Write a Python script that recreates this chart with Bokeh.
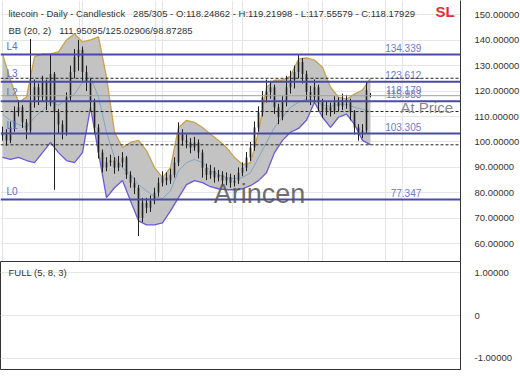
from bokeh.plotting import figure
from bokeh.models import (Range1d, FixedTicker, Grid, Label, Span,
                          NumeralTickFormatter, CustomJSTickFormatter, ColumnDataSource)
from bokeh.layouts import column
from bokeh.embed import file_html
from bokeh.resources import INLINE

FONT = "Liberation Sans"

# ---------------- data ----------------
opens = [102.5, 103.8, 100.6, 105.7, 111.7, 113.6, 107.7, 104.5, 115.6, 121.5,
         117.6, 123.5, 115.6, 126.7, 111.7, 106.9, 103.8, 117.6, 127.5, 133.4,
         136.2, 127.5, 123.5, 115.6, 105.7, 95.8, 89.9, 91.9, 92.7, 89.9,
         91.9, 93.9, 87.1, 84.0, 82.0, 70.1, 76.1, 74.1, 76.9, 80.0,
         84.0, 86.0, 84.8, 87.1, 91.9, 103.0, 100.6, 99.8, 97.8, 99.8,
         95.8, 89.9, 87.1, 88.7, 86.0, 87.1, 84.8, 86.0, 84.0, 84.8,
         87.9, 89.9, 93.9, 97.8, 105.7, 111.7, 117.6, 119.6, 121.5, 113.6,
         109.7, 115.6, 121.5, 124.3, 127.5, 131.4, 126.7, 119.6, 117.6, 121.5,
         115.6, 112.4, 113.6, 112.4, 115.6, 114.0, 116.4, 115.6, 111.7, 105.7,
         103.0, 104.5, 118.24862]
highs = [106.0, 105.0, 108.0, 114.0, 116.5, 114.5, 109.0, 140.5, 124.5, 123.0,
         126.0, 124.5, 134.6, 127.5, 113.0, 108.5, 119.5, 130.0, 136.5, 140.1,
         137.5, 130.0, 125.0, 117.0, 107.0, 97.0, 94.0, 95.0, 94.0, 94.5,
         96.0, 94.5, 88.5, 86.0, 83.0, 78.0, 78.0, 79.0, 82.0, 86.0,
         88.5, 88.0, 89.5, 94.0, 107.7, 105.0, 103.0, 101.5, 102.0, 101.0,
         97.0, 91.5, 91.0, 90.0, 89.0, 88.5, 88.0, 87.5, 87.0, 90.0,
         92.0, 96.0, 100.0, 108.0, 114.0, 120.0, 124.5, 124.0, 122.5, 115.0,
         118.0, 126.0, 128.0, 130.0, 134.3, 133.0, 128.0, 122.0, 124.5, 122.5,
         117.0, 116.0, 115.5, 118.0, 117.5, 119.0, 118.5, 117.0, 112.5, 107.0,
         107.0, 123.6, 119.21998]
lows = [100.5, 98.5, 99.5, 104.0, 110.0, 105.5, 101.0, 103.0, 113.5, 114.5,
        116.0, 112.5, 114.0, 81.2, 103.5, 101.0, 102.5, 116.0, 125.0, 128.0,
        124.0, 120.0, 112.0, 103.0, 93.5, 88.0, 88.5, 90.5, 87.5, 88.5,
        90.0, 85.5, 82.0, 79.5, 63.0, 68.5, 72.0, 72.5, 75.5, 78.5,
        82.5, 83.0, 83.5, 86.0, 90.5, 98.5, 97.5, 95.5, 96.5, 93.5,
        86.0, 85.0, 85.5, 84.0, 84.5, 82.5, 83.0, 82.0, 82.5, 83.5,
        86.5, 88.5, 92.5, 96.5, 104.0, 110.0, 115.5, 117.0, 111.0, 107.0,
        108.5, 114.0, 119.0, 121.0, 125.0, 123.0, 116.5, 114.5, 115.5, 112.0,
        109.5, 110.5, 110.0, 111.0, 112.0, 112.5, 113.0, 108.5, 103.0, 100.5,
        101.5, 103.5, 117.55579]
closes = [103.8, 100.6, 105.7, 111.7, 113.6, 107.7, 104.5, 115.6, 121.5, 117.6,
          123.5, 115.6, 126.7, 111.7, 106.9, 103.8, 117.6, 127.5, 133.4, 136.2,
          127.5, 123.5, 115.6, 105.7, 95.8, 89.9, 91.9, 92.7, 89.9, 91.9,
          93.9, 87.1, 84.0, 82.0, 70.1, 76.1, 74.1, 76.9, 80.0, 84.0,
          86.0, 84.8, 87.1, 91.9, 103.0, 100.6, 99.8, 97.8, 99.8, 95.8,
          89.9, 87.1, 88.7, 86.0, 87.1, 84.8, 86.0, 84.0, 84.8, 87.9,
          89.9, 93.9, 97.8, 105.7, 111.7, 117.6, 119.6, 121.5, 113.6, 109.7,
          115.6, 121.5, 124.3, 127.5, 131.4, 126.7, 119.6, 117.6, 121.5, 115.6,
          112.4, 113.6, 112.4, 115.6, 114.0, 116.4, 115.6, 111.7, 105.7, 103.0,
          104.5, 120.4, 118.17929]

bb_upper = [134.6, 124.3, 115.6, 117.6, 133.4, 134.6, 134.6, 135.4, 140.1, 142.5,
            139.3, 140.1, 141.3, 125.5, 103.8, 97.8, 99.8, 100.6, 96.6, 89.9,
            86.0, 89.9, 105.7, 108.5, 107.7, 105.7, 103.0, 100.6, 97.8, 93.9,
            91.1, 91.9, 103.8, 121.5, 124.3, 124.3, 125.9, 132.6, 133.0, 132.2,
            129.4, 121.5, 117.6, 116.8, 118.8, 120.4, 125.02906]
bb_lower = [93.9, 93.1, 93.9, 92.7, 91.9, 95.8, 99.8, 95.8, 92.7, 91.9,
            95.8, 113.6, 95.8, 78.1, 82.0, 84.8, 76.9, 69.0, 67.4, 67.4,
            68.2, 72.9, 78.1, 83.2, 84.8, 84.0, 82.4, 81.6, 81.2, 81.2,
            81.6, 82.8, 84.8, 87.9, 95.8, 100.6, 103.8, 105.3, 108.5, 115.6,
            109.7, 105.7, 109.7, 110.9, 106.9, 100.6, 98.87285]
bb_middle = [110.9, 108.5, 106.9, 105.7, 109.7, 112.4, 115.6, 114.4, 116.8, 118.8,
             123.5, 125.5, 117.6, 103.8, 93.9, 89.9, 87.1, 83.2, 80.8, 78.5,
             77.7, 80.8, 88.7, 91.9, 93.1, 91.9, 88.7, 87.1, 86.0, 85.6,
             86.0, 87.9, 93.9, 99.8, 105.7, 109.7, 113.6, 115.6, 116.8, 116.4,
             114.4, 114.0, 114.8, 114.8, 113.6, 112.8, 111.95095]

level_names = ["L0", "L1", "L2", "L3", "L4"]
level_values = [77.347, 103.305, 115.983, 123.612, 134.339]
price_line = 118.179

last_open, last_high, last_low, last_close = 118.24862, 119.21998, 117.55579, 118.17929
bb_mid_now, bb_up_now, bb_low_now = 111.95095, 125.02906, 98.87285

price_ticks = [50, 60, 70, 80, 90, 100, 110, 120, 130, 140, 150]
osc_ticks = [-1, 0, 1]

# ---------------- main panel ----------------
n = len(closes)
idx = list(range(n))
band_idx = list(range(0, n, 2))

p = figure(frame_width=460, frame_height=261,
           x_range=Range1d(-0.5, 114.5), y_range=Range1d(53.0, 155.6),
           x_axis_location=None, y_axis_location="right",
           toolbar_location=None, output_backend="svg",
           min_border_left=0, min_border_top=0, min_border_bottom=0,
           min_border_right=60, background_fill_color="white",
           border_fill_color="white")
p.outline_line_color = None

yt = FixedTicker(ticks=price_ticks)
p.yaxis.ticker = yt
p.ygrid.ticker = yt
p.ygrid.grid_line_color = "#e6e6e6"
p.yaxis.formatter = NumeralTickFormatter(format="0.00000")
p.yaxis.major_tick_line_color = None
p.yaxis.minor_tick_line_color = None
p.yaxis.major_label_standoff = 8
p.yaxis.major_label_text_font = FONT
p.yaxis.major_label_text_font_size = "9.5px"
p.yaxis.major_label_text_color = "#333333"
p.yaxis.axis_line_color = "#333333"
p.add_layout(Grid(dimension=0, ticker=FixedTicker(ticks=[19.25, 38.25, 57.5, 76.5, 95.75]),
                  grid_line_color="#e6e6e6"))

# Bollinger band
p.varea(x=band_idx, y1=bb_lower, y2=bb_upper, fill_color="#c3c3c3")
p.line(band_idx, bb_middle, line_color="#7fa6c4", line_width=1)
p.line(band_idx, bb_upper, line_color="#c9a24a", line_width=1.3)
p.line(band_idx, bb_lower, line_color="#6a5ad8", line_width=1.3)

# candles
colors = ["#3f8f86" if c >= o else "#b8445c" for o, c in zip(opens, closes)]
src = ColumnDataSource(dict(x=idx, top=[max(o, c) for o, c in zip(opens, closes)],
                            bottom=[min(o, c) for o, c in zip(opens, closes)],
                            high=highs, low=lows, color=colors))
p.vbar(x="x", width=0.55, top="top", bottom="bottom", source=src,
       fill_color="color", line_color=None)
p.segment(x0="x", y0="low", x1="x", y1="high", source=src,
          line_color="#1e1e1e", line_width=1)

# level lines
for name, v in zip(level_names, level_values):
    p.add_layout(Span(location=v, dimension="width", line_color="#4a4aa8", line_width=2))
    p.add_layout(Label(x=1.0, y=v, text=name, text_baseline="bottom", y_offset=3,
                       text_font=FONT, text_font_size="10px", text_color="#5c6cc8"))
    p.add_layout(Label(x=104.7, y=v, text=f"{v:.3f}", text_align="right",
                       text_baseline="bottom", y_offset=3,
                       text_font=FONT, text_font_size="10px", text_color="#6a7bcc"))
p.add_layout(Span(location=price_line, dimension="width", line_color="#a0a0a0", line_width=1))
p.add_layout(Label(x=104.7, y=price_line, text=f"{price_line:.3f}", text_align="right",
                   text_baseline="bottom", y_offset=2,
                   text_font=FONT, text_font_size="10px", text_color="#6a7bcc"))
for v in [bb_up_now, bb_mid_now, bb_low_now]:
    p.add_layout(Span(location=v, dimension="width", line_color="#222222",
                      line_width=1, line_dash="3 2"))

p.add_layout(Label(x=99.5, y=113.5, text="At Price", text_baseline="middle",
                   text_font=FONT, text_font_size="15px", text_color="#8a8a8a"))
p.add_layout(Label(x=64.25, y=79.7, text="Arincen", text_align="center",
                   text_baseline="middle", text_font=FONT, text_font_size="27px",
                   text_color="#555555", text_alpha=0.85))

# header
nb = "\u00a0\u00a0\u00a0"
p.add_layout(Label(x=1.5, y=150.67, text_baseline="middle",
                   text=f"litecoin - Daily - Candlestick{nb}285/305 - O:{last_open:.5f} - "
                        f"H:{last_high:.5f} - L:{last_low:.5f} - C:{last_close:.5f}",
                   text_font=FONT, text_font_size="9.5px", text_color="#333333"))
p.add_layout(Label(x=1.5, y=143.79, text_baseline="middle",
                   text=f"BB (20, 2){nb}{bb_mid_now:.5f}/{bb_up_now:.5f}/{bb_low_now:.5f}",
                   text_font=FONT, text_font_size="9.5px", text_color="#333333"))
p.add_layout(Label(x=108.25, y=151.26, text="SL", text_baseline="alphabetic",
                   text_font=FONT, text_font_size="15px", text_font_style="bold",
                   text_color="#e0303a"))

# price tags on the axis
tags = [(bb_up_now, "#d9a43a", "#333333"), (last_close, "#ea4b5a", "white"),
        (bb_mid_now, "#2a9df4", "white"), (bb_low_now, "#6a3ef0", "white")]
for v, bg, fg in tags:
    p.add_layout(Label(x=116.0, y=v, text=f"{v:.5f}", text_baseline="middle",
                       text_font=FONT, text_font_size="9.5px", text_color=fg,
                       background_fill_color=bg))
p.add_layout(Label(x=116.5, y=50, y_offset=12, text="50.00000", text_baseline="middle",
                   text_font=FONT, text_font_size="9.5px", text_color="#333333"))

# ---------------- oscillator panel ----------------
p2 = figure(frame_width=460, frame_height=108,
            x_range=p.x_range, y_range=Range1d(-1.256, 1.256),
            x_axis_location=None, y_axis_location="right",
            toolbar_location=None, output_backend="svg",
            min_border_left=0, min_border_top=0, min_border_bottom=21,
            min_border_right=60, background_fill_color="white",
            border_fill_color="white")
p2.outline_line_color = "#333333"
ot = FixedTicker(ticks=osc_ticks)
p2.yaxis.ticker = ot
p2.ygrid.ticker = ot
p2.ygrid.grid_line_color = "#e6e6e6"
p2.xgrid.grid_line_color = None
p2.yaxis.formatter = CustomJSTickFormatter(code="return tick == 0 ? '0' : tick.toFixed(5);")
p2.yaxis.major_tick_line_color = None
p2.yaxis.minor_tick_line_color = None
p2.yaxis.major_label_standoff = 8
p2.yaxis.major_label_text_font = FONT
p2.yaxis.major_label_text_font_size = "9.5px"
p2.yaxis.major_label_text_color = "#333333"
p2.yaxis.axis_line_color = "#333333"
p2.line([0, 1], [5, 5], line_alpha=0)
p2.add_layout(Label(x=1.5, y=1.0, text="FULL (5, 8, 3)", text_baseline="middle",
                    text_font=FONT, text_font_size="9.5px", text_color="#333333"))

layout = column(p, p2, spacing=0)
open("out.html", "w").write(file_html(layout, INLINE))
